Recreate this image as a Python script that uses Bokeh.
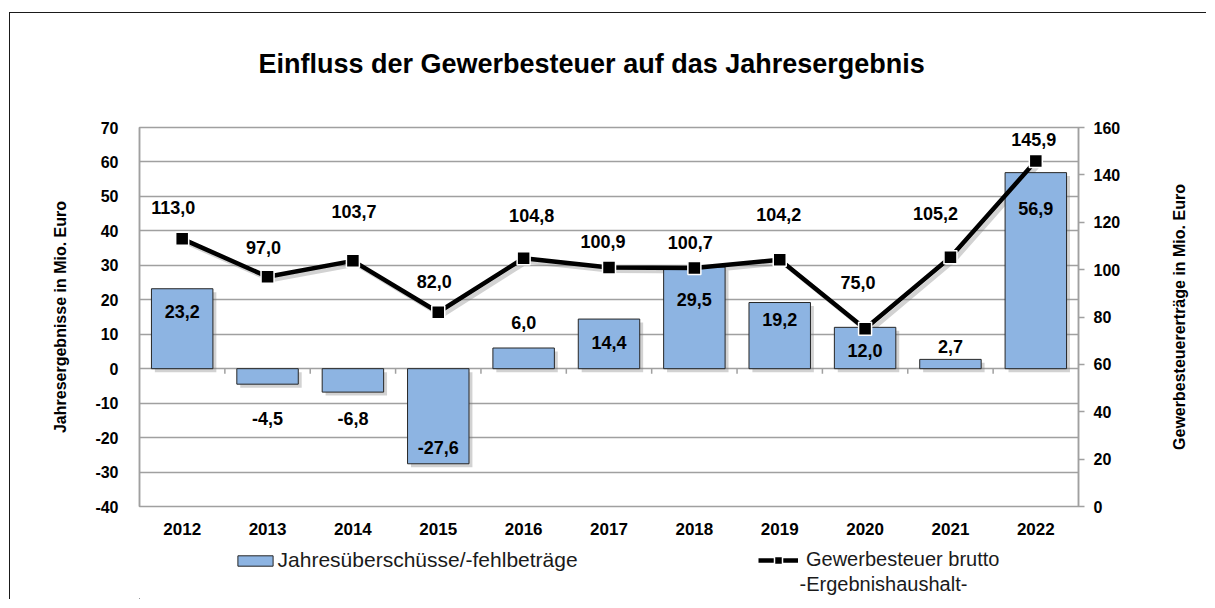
import math
from bokeh.plotting import figure
from bokeh.layouts import gridplot
from bokeh.models import (Range1d, LinearAxis, FixedTicker, ColumnDataSource,
                          Legend, LegendItem, Label, Title)
from bokeh.core.properties import value
from bokeh.embed import file_html
from bokeh.resources import INLINE

# ---------------- data ----------------
years = ["2012", "2013", "2014", "2015", "2016", "2017", "2018", "2019", "2020", "2021", "2022"]
jahresergebnis = [23.2, -4.5, -6.8, -27.6, 6.0, 14.4, 29.5, 19.2, 12.0, 2.7, 56.9]
gewerbesteuer = [113.0, 97.0, 103.7, 82.0, 104.8, 100.9, 100.7, 104.2, 75.0, 105.2, 145.9]
left_ticks = [-40, -30, -20, -10, 0, 10, 20, 30, 40, 50, 60, 70]
right_ticks = [0, 20, 40, 60, 80, 100, 120, 140, 160]

# label placement (screen px offsets, as in the original)
bar_label_dy = [23, 34, 26, -16, -26, 23, 32, 17, 23, -13, 36]
line_label_dx = [-9, -4, 1, -4, 8, -6, -4, -1, -7, -15, -2]
line_label_dy = [-31, -29, -49, -31, -43, -26, -25, -45, -46, -44, -21]

FONT = "Liberation Sans"
GRID = "#a0a0a0"
TXT = "#000000"
W = 1158     # main chart canvas width
RW = 39      # strip for the right axis title
H = 525

n = len(years)
xs = [i + 0.5 for i in range(n)]


def fmt(v):
    return f"{v:.1f}".replace(".", ",")


src = ColumnDataSource(dict(
    x=xs, erg=jahresergebnis, gw=gewerbesteuer,
    erg_lbl=[fmt(v) for v in jahresergebnis],
    gw_lbl=[fmt(v) for v in gewerbesteuer],
    bdy=bar_label_dy, ldx=line_label_dx, ldy=line_label_dy,
))

p = figure(width=W, height=H, x_range=Range1d(0, n), y_range=Range1d(-40, 70),
           output_backend="svg", toolbar_location=None,
           min_border_left=129, min_border_right=W - 1068,
           min_border_top=114, min_border_bottom=32)
p.styles = {"border-top": "1px solid #1a1a1a", "border-left": "1px solid #1a1a1a",
            "margin-top": "12px", "margin-left": "9px"}
p.extra_y_ranges = {"gw": Range1d(0, 160)}
p.background_fill_color = "white"
p.border_fill_color = "white"
p.outline_line_color = GRID
p.outline_line_width = 1.5

# spacer between the frame and the title (keeps the title higher up)
p.add_layout(Title(text=" ", text_font_size="2px", standoff=12), "above")

# title
p.title.text = "Einfluss der Gewerbesteuer auf  das Jahresergebnis"
p.title.align = "left"
p.title.text_font = FONT
p.title.text_font_size = "27px"
p.title.text_font_style = "bold"
p.title.text_color = TXT
p.title.standoff = 66
p.title.offset = 119

# x axis
xa = p.xaxis[0]
xa.ticker = FixedTicker(ticks=xs)
xa.major_label_overrides = {x: y for x, y in zip(xs, years)}
xa.major_tick_line_color = None
xa.minor_tick_line_color = None
xa.axis_line_color = None
xa.major_label_text_font = FONT
xa.major_label_text_font_size = "17px"
xa.major_label_text_font_style = "bold"
xa.major_label_text_color = TXT
xa.major_label_standoff = 10

# left axis
ya = p.yaxis[0]
ya.ticker = FixedTicker(ticks=left_ticks)
ya.major_label_overrides = {t: str(t) for t in left_ticks}
ya.axis_line_color = GRID
ya.axis_line_width = 1.5
ya.major_tick_line_color = None
ya.minor_tick_line_color = None
ya.major_label_text_font = FONT
ya.major_label_text_font_size = "16px"
ya.major_label_text_font_style = "bold"
ya.major_label_text_color = TXT
ya.major_label_standoff = 15
ya.axis_label = "Jahresergebnisse in Mio. Euro"
ya.axis_label_text_font = FONT
ya.axis_label_text_font_size = "16px"
ya.axis_label_text_font_style = "bold"
ya.axis_label_text_color = TXT
ya.axis_label_standoff = 23

# right axis (ticks and labels)
ra = LinearAxis(y_range_name="gw", ticker=FixedTicker(ticks=right_ticks))
ra.axis_line_color = GRID
ra.axis_line_width = 1.5
ra.major_tick_line_color = GRID
ra.major_tick_line_width = 1.5
ra.major_tick_in = 0
ra.major_tick_out = 6
ra.minor_tick_line_color = None
ra.major_label_text_font = FONT
ra.major_label_text_font_size = "16px"
ra.major_label_text_font_style = "bold"
ra.major_label_text_color = TXT
ra.major_label_standoff = 9
p.add_layout(ra, "right")

# grid
p.xgrid.visible = False
p.ygrid.ticker = FixedTicker(ticks=left_ticks)
p.ygrid.grid_line_color = GRID
p.ygrid.grid_line_width = 1.5

# category separator ticks on the zero line
bounds = list(range(1, n))
p.segment(x0=bounds, y0=[0] * len(bounds), x1=bounds, y1=[-1.5] * len(bounds),
          line_color=GRID, line_width=1.5)

BAR_STYLE = dict(fill_color="#8db4e2", line_color="#262626", line_width=1)
LINE_STYLE = dict(line_color="black", line_width=4.5)
MK_STYLE = dict(marker="square", size=13, fill_color="black", line_color="white", line_width=1.5)

# soft drop shadows (offset copies, like the original's shadow effect)
shadow = ColumnDataSource(dict(
    x=[x + 0.04 for x in xs],
    top=[v - 1.0 for v in jahresergebnis],
    bottom=[-1.0] * n,
    gw=[v - 1.4 for v in gewerbesteuer],
))
p.vbar(x="x", top="top", bottom="bottom", width=0.72, source=shadow,
       fill_color="#7f7f7f", fill_alpha=0.35, line_color=None)
p.line(x="x", y="gw", source=shadow, y_range_name="gw", line_color="#7f7f7f",
       line_alpha=0.35, line_width=4.5)

# bars
bars = p.vbar(x="x", top="erg", bottom=0, width=0.72, source=src, **BAR_STYLE)

# line
ln = p.line(x="x", y="gw", source=src, y_range_name="gw", **LINE_STYLE)
mk = p.scatter(x="x", y="gw", source=src, y_range_name="gw", **MK_STYLE)

# data labels
p.text(x="x", y="erg", text="erg_lbl", y_offset="bdy", source=src,
       text_align="center", text_baseline="middle", text_font=value(FONT),
       text_font_size="18px", text_font_style="bold", text_color=TXT)
p.text(x="x", y="gw", text="gw_lbl", x_offset="ldx", y_offset="ldy", source=src,
       y_range_name="gw", text_align="center", text_baseline="middle",
       text_font=value(FONT), text_font_size="18px", text_font_style="bold", text_color=TXT)

# ---------------- right-axis title strip (reads bottom-to-top) ----------------
rf = figure(width=RW, height=H, x_range=Range1d(0, 1), y_range=Range1d(0, 160),
            output_backend="svg", toolbar_location=None,
            min_border_left=0, min_border_right=0, min_border_top=114, min_border_bottom=32)
rf.styles = {"border-top": "1px solid #1a1a1a", "margin-top": "12px"}
rf.xaxis.visible = False
rf.grid.visible = False
rf.outline_line_color = None
rf.background_fill_color = "white"
rf.border_fill_color = "white"
ry = rf.yaxis[0]
ry.ticker = FixedTicker(ticks=[])
ry.axis_line_color = None
ry.major_tick_line_color = None
ry.minor_tick_line_color = None
ry.major_tick_out = 0
ry.major_label_standoff = 0
ry.axis_label = "Gewerbesteuererträge in Mio. Euro"
ry.axis_label_text_font = FONT
ry.axis_label_text_font_size = "16px"
ry.axis_label_text_font_style = "bold"
ry.axis_label_text_color = TXT
ry.axis_label_standoff = 0

# ---------------- legend strip (its frame is aligned with the chart frame) ----------------
LH = 62
FW = 939
lf = figure(width=W, height=LH, x_range=Range1d(0, FW), y_range=Range1d(0, LH),
            output_backend="svg", toolbar_location=None,
            min_border_left=0, min_border_right=0, min_border_top=0, min_border_bottom=0)
lf.styles = {"border-left": "1px solid #1a1a1a", "margin-left": "9px"}
lf.xaxis.visible = False
lf.yaxis.visible = False
lf.grid.visible = False
lf.outline_line_color = None
lf.background_fill_color = "white"
lf.border_fill_color = "white"

# legend proxies, placed outside the visible range
lb = lf.vbar(x=[-100], top=[1], width=1, **BAR_STYLE)
ll = lf.line(x=[-100, -90], y=[1, 1], **LINE_STYLE)
lm = lf.scatter(x=[-100], y=[1], **MK_STYLE)

common = dict(margin=0, padding=0, border_line_color=None, background_fill_alpha=0,
              label_text_font=FONT, label_text_color="#1a1a1a", spacing=0)
leg1 = Legend(items=[LegendItem(label="Jahresüberschüsse/-fehlbeträge", renderers=[lb])],
              location=(93.6, 27), glyph_width=44, glyph_height=13, label_standoff=1,
              label_text_font_size="21px", **common)
leg2 = Legend(items=[LegendItem(label="Gewerbesteuer brutto", renderers=[ll, lm])],
              location=(619, 28), glyph_width=40, glyph_height=20, label_standoff=8,
              label_text_font_size="20px", **common)
lf.add_layout(leg1)
lf.add_layout(leg2)
lf.add_layout(Label(x=660, y=16, text="-Ergebnishaushalt-", text_font=FONT,
                    text_font_size="20px", text_color="#1a1a1a", text_baseline="middle"))

layout = gridplot([[p, rf], [lf, None]], toolbar_location=None)
open("out.html", "w").write(file_html(layout, INLINE))
